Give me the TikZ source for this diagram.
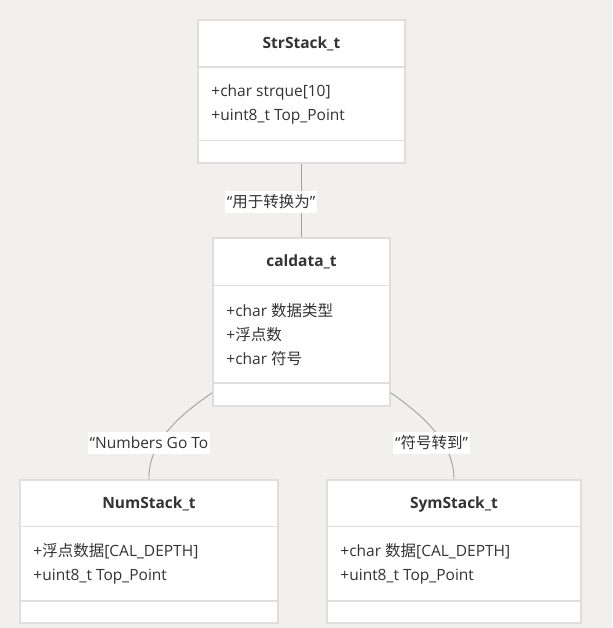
\documentclass[tikz,border=0pt]{standalone}
\usepackage{fontspec}
\setmainfont{Open Sans}
\newfontfamily\cjk{Noto Sans CJK SC}
\usetikzlibrary{positioning, calc}

\definecolor{bggray}{RGB}{242,240,239}
\definecolor{boxline}{RGB}{222,222,222}
\definecolor{linkgray}{RGB}{160,160,160}
\definecolor{textgray}{RGB}{51,51,51}

\begin{document}
\begin{tikzpicture}[
    x=1pt, y=-1pt,
    font=\fontsize{15.5}{24}\selectfont, text=textgray,
    classbox/.style={draw=boxline, fill=white, line width=1.5pt, inner sep=0pt},  % Class frame
    sepline/.style={draw=boxline, line width=1.5pt},                             % Compartment line
    classname/.style={font=\fontsize{15.5}{24}\selectfont\bfseries},             % Class title
    attr/.style={align=left, anchor=west, inner sep=0pt},                        % Attribute list
    link/.style={draw=linkgray, line width=0.9pt},                               % Relation line
    linklabel/.style={fill=white, inner sep=2pt, minimum height=22pt}            % Relation label
]

% --- BACKGROUND ---
\fill[bggray] (0,0) rectangle (612,628);
\useasboundingbox (0,0) rectangle (612,628);

% --- CLASS FRAMES ---
\node[classbox, minimum width=207pt, minimum height=143pt] (str) at (301.5,91.5) {};
\node[classbox, minimum width=177pt, minimum height=168pt] (cal) at (301.5,322) {};
\node[classbox, minimum width=258pt, minimum height=143pt] (num) at (149,551.5) {};
\node[classbox, minimum width=254pt, minimum height=143pt] (sym) at (454,551.5) {};

% --- COMPARTMENT LINES ---
\draw[sepline] ([yshift=-48pt]str.north west) -- ([yshift=-48pt]str.north east);
\draw[sepline] ([yshift=23pt]str.south west) -- ([yshift=23pt]str.south east);
\draw[sepline] ([yshift=-48pt]cal.north west) -- ([yshift=-48pt]cal.north east);
\draw[sepline] ([yshift=24pt]cal.south west) -- ([yshift=24pt]cal.south east);
\draw[sepline] ([yshift=-47pt]num.north west) -- ([yshift=-47pt]num.north east);
\draw[sepline] ([yshift=23pt]num.south west) -- ([yshift=23pt]num.south east);
\draw[sepline] ([yshift=-47pt]sym.north west) -- ([yshift=-47pt]sym.north east);
\draw[sepline] ([yshift=23pt]sym.south west) -- ([yshift=23pt]sym.south east);

% --- CLASS NAMES ---
\node[classname] (strname) at ([yshift=-25pt]str.north) {StrStack\_t};
\node[classname] (calname) at ([yshift=-25pt]cal.north) {caldata\_t};
\node[classname] (numname) at ([yshift=-25pt]num.north) {NumStack\_t};
\node[classname] (symname) at ([yshift=-25pt]sym.north) {SymStack\_t};

% --- ATTRIBUTES ---
\node[attr] (strattr) at ([xshift=14pt, yshift=-85pt]str.north west) {+char strque[10]\\+uint8\_t Top\_Point};
\node[attr] (calattr) at ([xshift=14pt, yshift=-97pt]cal.north west) {+char {\cjk 数据类型}\\+{\cjk 浮点数}\\+char {\cjk 符号}};
\node[attr] (numattr) at ([xshift=14pt, yshift=-85pt]num.north west) {+{\cjk 浮点数据}[CAL\_DEPTH]\\+uint8\_t Top\_Point};
\node[attr] (symattr) at ([xshift=14pt, yshift=-85pt]sym.north west) {+char {\cjk 数据}[CAL\_DEPTH]\\+uint8\_t Top\_Point};

% --- RELATIONS ---
\draw[link] (str.south) -- (cal.north);
\draw[link] ([yshift=14pt]cal.south west) .. controls (175,418) and (148,445) .. (num.north);
\draw[link] ([yshift=14pt]cal.south east) .. controls (427,418) and (454,445) .. (sym.north);

% --- RELATION LABELS ---
\node[linklabel] (strcal) at (271,202) {“{\cjk 用于转换为}”};
\node[linklabel] (calnum) at (149,443) {“Numbers Go To};
\node[linklabel] (calsym) at (431.5,443) {“{\cjk 符号转到}”};

\end{tikzpicture}
\end{document}
